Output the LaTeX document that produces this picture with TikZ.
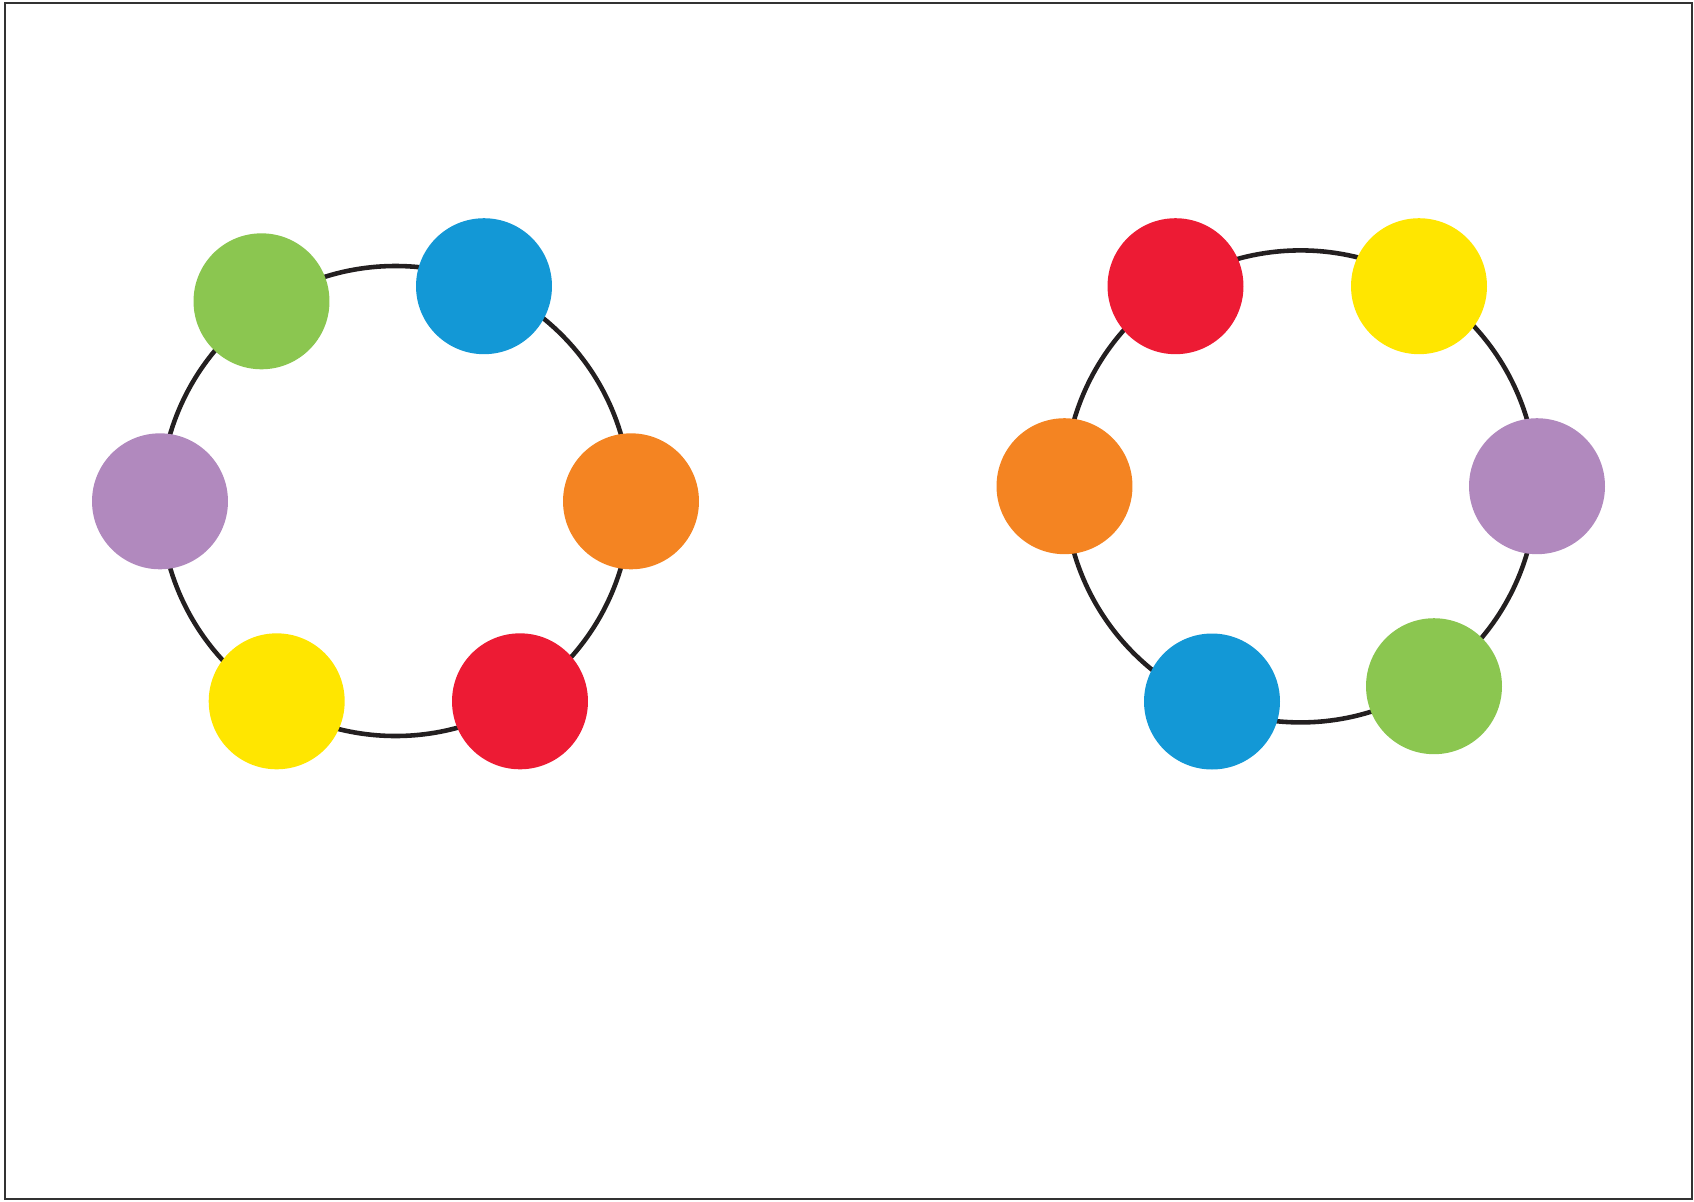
\documentclass[tikz,border=0pt]{standalone}
\usepackage{tikz}

\definecolor{ringblack}{HTML}{231F20}
\definecolor{beadgreen}{HTML}{8BC650}
\definecolor{beadblue}{HTML}{1398D6}
\definecolor{beadorange}{HTML}{F48422}
\definecolor{beadred}{HTML}{ED1B34}
\definecolor{beadyellow}{HTML}{FFE600}
\definecolor{beadpurple}{HTML}{B189BE}

\tikzset{
	ring/.style={draw=ringblack, line width=2.6pt},
	bead/.style={circle, inner sep=0pt, minimum size=2.72cm, fill=#1}
}

\begin{document}
\begin{tikzpicture}[x=0.02cm, y=-0.02cm]
		\useasboundingbox (0, 0) rectangle (1694, 1201);
		\draw[line width=1.1pt, draw=black!80] (5, 3) rectangle (1692, 1199);
		
		% left ring
		\coordinate (lc) at (395.5, 501);
		\draw[ring] (lc) circle (235);
		\node[bead=beadgreen] (lgreen) at (261.5, 301.3) {};
		\node[bead=beadblue] (lblue) at (484, 286.2) {};
		\node[bead=beadorange] (lorange) at (631, 501.3) {};
		\node[bead=beadred] (lred) at (520, 701.3) {};
		\node[bead=beadyellow] (lyellow) at (276.7, 701.3) {};
		\node[bead=beadpurple] (lpurple) at (160, 501.3) {};
		
		% right ring
		\coordinate (rc) at (1300.6, 486.4);
		\draw[ring] (rc) circle (236);
		\node[bead=beadred] (rred) at (1175.5, 286.2) {};
		\node[bead=beadyellow] (ryellow) at (1419, 286.2) {};
		\node[bead=beadpurple] (rpurple) at (1537, 486.2) {};
		\node[bead=beadgreen] (rgreen) at (1434, 686.2) {};
		\node[bead=beadblue] (rblue) at (1212, 701.5) {};
		\node[bead=beadorange] (rorange) at (1064.5, 486.2) {};
	\end{tikzpicture}
\end{document}
